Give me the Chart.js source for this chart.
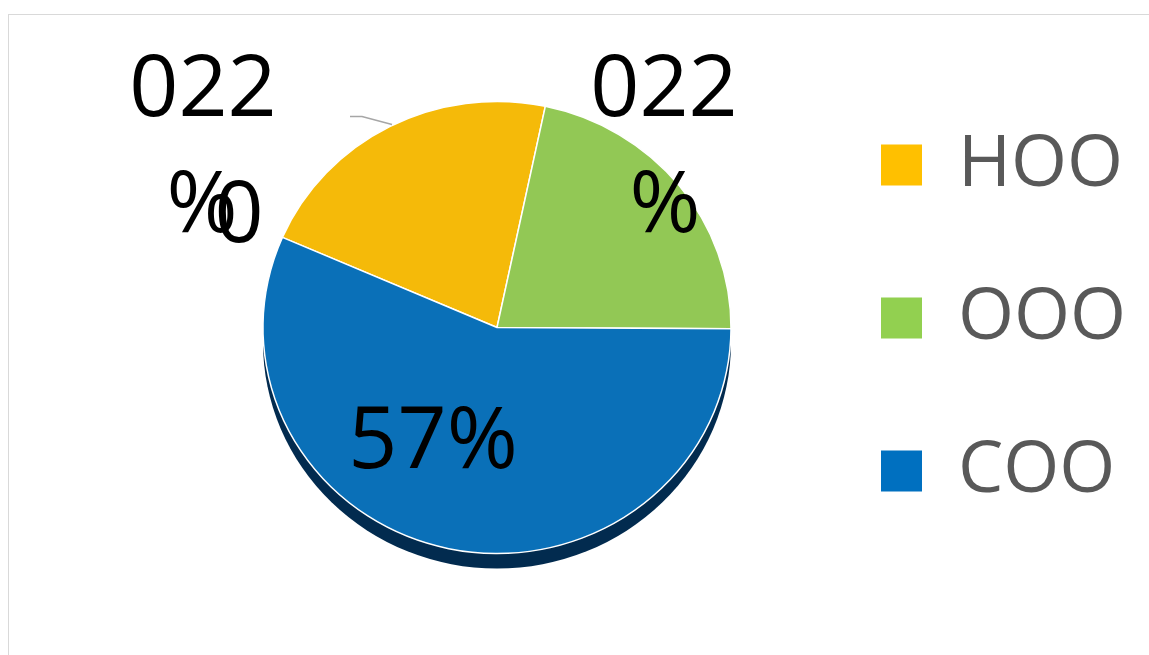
<!DOCTYPE html>
<html>
<head>
<meta charset="utf-8">
<script src="https://cdn.jsdelivr.net/npm/chart.js@4.4.1/dist/chart.umd.min.js"></script>
<style>
  html, body { margin: 0; padding: 0; background: #fff; overflow: hidden; }
  #frame { position: absolute; left: 8px; top: 14px; width: 1200px; height: 700px; border: 1px solid #d9d9d9; }
  #wrap { position: absolute; left: 0; top: 0; width: 1149px; height: 655px; }
</style>
</head>
<body>
<div id="frame"></div>
<div id="wrap"><canvas id="pieChart"></canvas></div>
<script>
// categorias e valores
var labels = ["HOO", "OOO", "COO"];
var values = [22, 22, 57];
// textos dos rótulos (como aparecem na figura)
var dataLabels = [["022", "%"], ["022", "%"], ["57%"]];

var sliceColors = ["#F5BA09", "#92C855", "#0A70B8"];
var legendColors = ["#FFC000", "#92D050", "#0070C0"];

var legendFont = "72px 'Open Sans'";
var legendPad = 81, legendBox = 41;

// largura da legenda, para deixar o quadrado em x = 881
var mctx = document.createElement('canvas').getContext('2d');
mctx.font = legendFont;
var maxTextW = Math.max.apply(null, labels.map(function(l) { return mctx.measureText(l).width; }));
var legendW = legendPad + legendBox + 36 + maxTextW + 10;
var rightPad = Math.max(0, 1149 - (881 - legendPad) - legendW);

// sombra 3D e rótulos desenhados a partir dos arcos do gráfico
var pieExtras = {
  id: 'pieExtras',
  beforeDatasetsDraw: function(chart) {
    var ctx = chart.ctx;
    var arc = chart.getDatasetMeta(0).data[0];
    ctx.save();
    // leve achatamento vertical
    ctx.translate(arc.x, arc.y);
    ctx.scale(1, 0.966);
    ctx.translate(-arc.x, -arc.y);
    ctx.beginPath();
    ctx.arc(arc.x, arc.y + 15.5, arc.outerRadius, 0, Math.PI * 2);
    ctx.fillStyle = "#022B4F";
    ctx.fill();
  },
  afterDatasetsDraw: function(chart) {
    var ctx = chart.ctx;
    ctx.restore();
    var arc = chart.getDatasetMeta(0).data[0];
    var cx = arc.x, cy = arc.y;
    ctx.save();
    // linha de chamada do rótulo amarelo
    ctx.strokeStyle = "#a6a6a6";
    ctx.lineWidth = 1.5;
    ctx.beginPath();
    ctx.moveTo(cx - 147, cy - 211);
    ctx.lineTo(cx - 135, cy - 211);
    ctx.lineTo(cx - 105, cy - 203);
    ctx.stroke();

    ctx.fillStyle = "#000";
    ctx.font = "86px 'Open Sans'";
    ctx.textAlign = "center";
    ctx.textBaseline = "middle";
    var pos = [[[-294, -236], [-295, -120]], [[167, -236], [168, -120]], [[-64, 116]]];
    dataLabels.forEach(function(lines, i) {
      lines.forEach(function(t, j) {
        ctx.fillText(t, cx + pos[i][j][0], cy + pos[i][j][1]);
      });
    });
    ctx.fillText("0", cx - 258, cy - 110);
    ctx.restore();
  }
};

var ctxP = document.getElementById("pieChart").getContext('2d');
var myPieChart = new Chart(ctxP, {
  type: 'pie',
  data: {
    labels: labels,
    datasets: [{
      data: values,
      backgroundColor: sliceColors,
      borderColor: "#ffffff",
      borderWidth: 1.5
    }]
  },
  options: {
    responsive: true,
    maintainAspectRatio: false,
    animation: false,
    rotation: -66.5,
    radius: 234,
    layout: { padding: { left: 194, right: rightPad, top: 0, bottom: 0 } },
    plugins: {
      tooltip: { enabled: false },
      legend: {
        position: 'right',
        align: 'start',
        title: { display: true, text: '', font: { size: 10 }, padding: { top: 36, bottom: 0 } },
        labels: {
          boxWidth: legendBox,
          boxHeight: legendBox,
          padding: legendPad,
          color: "#595959",
          font: { family: "'Open Sans'", size: 72 },
          generateLabels: function(chart) {
            var items = Chart.overrides.pie.plugins.legend.labels.generateLabels(chart);
            items.forEach(function(it, i) {
              it.fillStyle = legendColors[i];
              it.strokeStyle = legendColors[i];
              it.lineWidth = 0;
            });
            return items;
          }
        }
      }
    }
  },
  plugins: [pieExtras]
});
</script>
</body>
</html>
